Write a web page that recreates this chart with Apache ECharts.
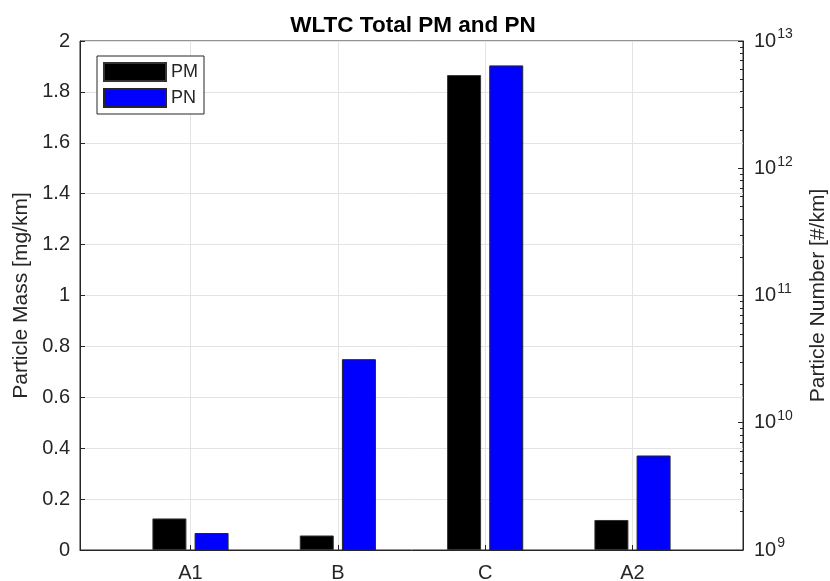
<!DOCTYPE html>
<html>
<head>
<meta charset="utf-8">
<title>WLTC Total PM and PN</title>
<script src="https://cdn.jsdelivr.net/npm/echarts@6/dist/echarts.min.js"></script>
<style>
  html, body { margin: 0; padding: 0; background: #fff; }
  #chart { width: 830px; height: 581px; }
</style>
</head>
<body>
<div id="chart"></div>
<script>
// categories along the x axis, placed at 1..4
const categories = ["A1", "B", "C", "A2"];
const catPos = [1, 2, 3, 4];
// particle mass [mg/km], left axis
const pmValues = [0.124, 0.057, 1.866, 0.118];
// particle number [#/km], right log axis
const pnValues = [1.36e9, 3.16e10, 6.43e12, 5.53e9];
// log axis decades for the labels
const pnDecades = [1e9, 1e10, 1e11, 1e12, 1e13];
// minor ticks 2..9 x 10^n
const pnMinor = [];
for (let d = 9; d < 13; d++) {
  for (let m = 2; m <= 9; m++) pnMinor.push(m * Math.pow(10, d));
}

const FONT = "Liberation Sans, Arial, Helvetica, sans-serif";
const DARK = "#262626";

const chart = echarts.init(document.getElementById("chart"));

const option = {
  backgroundColor: "#fff",
  animation: false,
  textStyle: { fontFamily: FONT },
  title: {
    text: "WLTC Total PM and PN",
    left: 408,
    textAlign: "center",
    top: 9,
    textStyle: { fontSize: 22.5, fontWeight: "bold", color: "#000", fontFamily: FONT },
  },
  legend: {
    orient: "vertical",
    left: 97,
    top: 56,
    padding: [6, 6, 6, 6],
    itemWidth: 62,
    itemHeight: 18,
    itemGap: 6,
    icon: "rect",
    backgroundColor: "#fff",
    borderColor: DARK,
    borderWidth: 1,
    borderRadius: 0,
    textStyle: { fontSize: 18, color: DARK },
    data: ["PM", "PN"],
  },
  grid: {
    left: 80,
    right: 87,
    top: 41,
    bottom: 31,
    show: true,
    borderColor: DARK,
    borderWidth: 1,
    containLabel: false,
    outerBoundsMode: "none",
  },
  xAxis: {
    type: "value",
    min: 0.25,
    max: 4.75,
    axisLine: { show: true, lineStyle: { color: DARK } },
    axisTick: { show: true, inside: true, length: 5, customValues: catPos, lineStyle: { color: DARK } },
    axisLabel: {
      customValues: catPos,
      formatter: (v) => categories[Math.round(v) - 1],
      fontSize: 20,
      color: DARK,
      margin: 13,
    },
    splitLine: { show: true, lineStyle: { color: "#e3e3e3" } },
  },
  yAxis: [
    {
      type: "value",
      min: 0,
      max: 2,
      interval: 0.2,
      position: "left",
      name: "Particle Mass [mg/km]",
      nameLocation: "middle",
      nameGap: 46,
      nameTextStyle: { fontSize: 21, color: DARK },
      axisLine: { show: true, lineStyle: { color: DARK } },
      axisTick: { show: true, inside: true, length: 5, lineStyle: { color: DARK } },
      axisLabel: { fontSize: 20, color: DARK, margin: 10 },
      splitLine: { show: true, lineStyle: { color: "#e3e3e3" } },
    },
    {
      type: "log",
      logBase: 10,
      min: 1e9,
      max: 1e13,
      position: "right",
      name: "Particle Number [#/km]",
      nameLocation: "middle",
      nameGap: 65,
      nameRotate: 90,
      nameTextStyle: { fontSize: 21, color: DARK },
      axisLine: { show: true, lineStyle: { color: DARK } },
      axisTick: { show: true, inside: true, length: 5, customValues: pnDecades, lineStyle: { color: DARK } },
      axisLabel: {
        customValues: pnDecades,
        margin: 11,
        formatter: (v) => "{b|10}{s|" + Math.round(Math.log10(v)) + "}",
        rich: {
          b: { fontSize: 20, color: DARK, fontFamily: FONT },
          s: { fontSize: 14, color: DARK, fontFamily: FONT, padding: [0, 0, 13, 1] },
        },
      },
      splitLine: { show: false },
    },
    {
      // minor ticks of the log axis
      type: "log",
      logBase: 10,
      min: 1e9,
      max: 1e13,
      position: "right",
      axisLine: { show: false },
      axisTick: { show: true, inside: true, length: 3, customValues: pnMinor, lineStyle: { color: DARK } },
      axisLabel: { show: false },
      splitLine: { show: false },
    },
  ],
  series: [
    {
      name: "PM",
      type: "bar",
      yAxisIndex: 0,
      barWidth: 34,
      barGap: "24%",
      clip: true,
      itemStyle: { color: "#000000", borderColor: "#333333", borderWidth: 1 },
      data: catPos.map((x, i) => [x, pmValues[i]]),
    },
    {
      name: "PN",
      type: "bar",
      yAxisIndex: 1,
      barWidth: 34,
      barGap: "24%",
      clip: true,
      itemStyle: { color: "#0000ff", borderColor: DARK, borderWidth: 1 },
      data: catPos.map((x, i) => [x, pnValues[i]]),
    },
  ],
};

chart.setOption(option);
</script>
</body>
</html>
